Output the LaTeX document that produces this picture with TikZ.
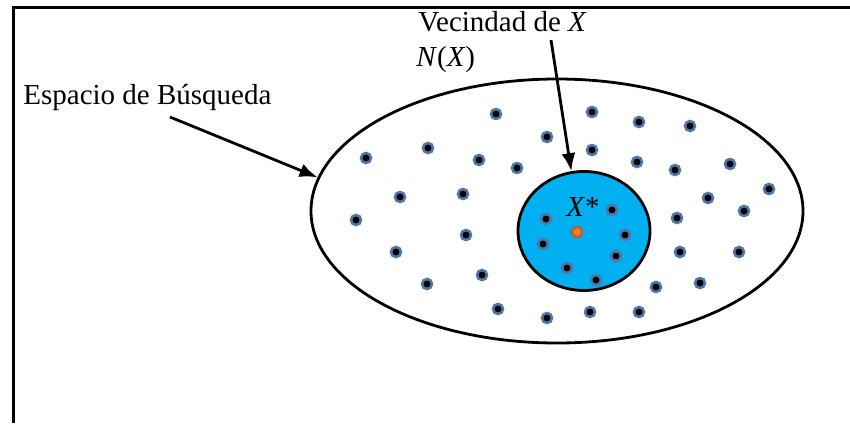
\documentclass[tikz,border=0pt]{standalone}
\usepackage{fontspec}
\setmainfont{Liberation Serif}
\usetikzlibrary{shapes.geometric,arrows.meta}

\definecolor{ringblue}{RGB}{79,118,168}
\definecolor{nbcyan}{RGB}{0,176,240}
\definecolor{xorange}{RGB}{237,125,49}
\definecolor{xring}{RGB}{190,95,35}

\begin{document}
\begin{tikzpicture}[x=0.5pt,y=-0.5pt,>={Latex[length=9pt,width=7pt]},line width=1.4pt,
lbl/.style={inner sep=0,font=\fontsize{14.5}{17.5}\selectfont},
pt/.style={circle,fill=black,draw=ringblue,line width=1.3pt,inner sep=0,minimum size=5pt},
best/.style={circle,fill=xorange,draw=xring,line width=1.1pt,inner sep=0,minimum size=5.2pt}]

\useasboundingbox (0,0) rectangle (850,423);

%frame
\draw[line width=1.6pt] (13.5,423) -- (13.5,7.5) -- (850,7.5);

\node[ellipse,draw,minimum width=246pt,minimum height=132pt,inner sep=0] (sp) at (557,211) {};
\node[ellipse,draw,fill=nbcyan,minimum width=66pt,minimum height=59.5pt,inner sep=0] (nb) at (584,231) {};

%labels
\node[lbl,anchor=base west] (esp) at (22,104) {Espacio de Búsqueda};
\node[lbl,anchor=base west] (vec) at (417,31.7) {Vecindad de \textit{X}};
\node[lbl,anchor=base west] (nx) at (415,66.7) {\textit{N}(\textit{X})};
\node[lbl,anchor=base west] (xs) at (565,216.7) {\textit{X}*};

%points of the space
\node[pt] (p1) at (496,114) {};
\node[pt] (p2) at (592,112) {};
\node[pt] (p3) at (639,122) {};
\node[pt] (p4) at (690,126) {};
\node[pt] (p5) at (547,137) {};
\node[pt] (p6) at (366,158) {};
\node[pt] (p7) at (428,148) {};
\node[pt] (p8) at (479,160) {};
\node[pt] (p9) at (517,168) {};
\node[pt] (p10) at (592,150) {};
\node[pt] (p11) at (637,162) {};
\node[pt] (p12) at (675,170) {};
\node[pt] (p13) at (730,164) {};
\node[pt] (p14) at (769,189) {};
\node[pt] (p15) at (400,197) {};
\node[pt] (p16) at (463,194) {};
\node[pt] (p17) at (708,198) {};
\node[pt] (p18) at (744,211) {};
\node[pt] (p19) at (356,220) {};
\node[pt] (p20) at (466,235) {};
\node[pt] (p21) at (677,218) {};
\node[pt] (p22) at (396,252) {};
\node[pt] (p23) at (680,252) {};
\node[pt] (p24) at (739,252) {};
\node[pt] (p25) at (482,275) {};
\node[pt] (p26) at (427,284) {};
\node[pt] (p27) at (656,287) {};
\node[pt] (p28) at (700,283) {};
\node[pt] (p29) at (498,309) {};
\node[pt] (p30) at (547,318) {};
\node[pt] (p31) at (590,312) {};
\node[pt] (p32) at (639,312) {};

%points of the neighbourhood
\node[pt] (q1) at (546,219) {};
\node[pt] (q2) at (612,210) {};
\node[pt] (q3) at (625,235) {};
\node[pt] (q4) at (543,244) {};
\node[pt] (q5) at (616,256) {};
\node[pt] (q6) at (567,268) {};
\node[pt] (q7) at (596,280) {};
\node[best] (x) at (577,232) {};

%arrows
\coordinate (espfoot) at (170,117);
\coordinate (vecfoot) at (551,40);
\draw[->] (espfoot) -- (sp.172);
\draw[->] (vecfoot) -- (nb.102);

\end{tikzpicture}
\end{document}
